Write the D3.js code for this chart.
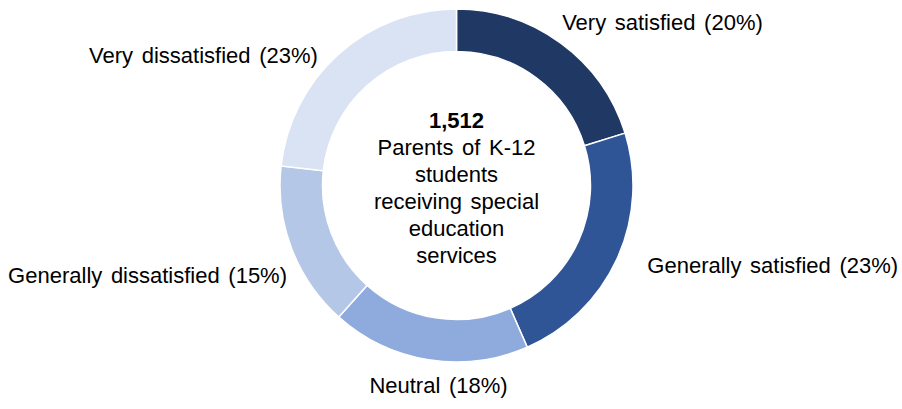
<!DOCTYPE html>
<html>
<head>
<meta charset="utf-8">
<script src="https://cdn.jsdelivr.net/npm/d3@7"></script>
<style>
  html, body { margin: 0; padding: 0; background: #ffffff; }
  svg { display: block; }
  text { font-family: "Liberation Sans", Arial, sans-serif; fill: #000; word-spacing: 2.5px; }
</style>
</head>
<body>
<svg id="chart" width="902" height="409"></svg>
<script>
// Satisfaction categories, in clockwise order from 12 o'clock
const categories = ["Very satisfied", "Generally satisfied", "Neutral", "Generally dissatisfied", "Very dissatisfied"];
const shares = [20, 23, 18, 15, 23];
const colors = ["#203864", "#2f5597", "#8faadc", "#b4c7e7", "#dae3f3"];
// Label placement relative to a point on the label ring: [anchor, dx, dy]
const labelLayout = [
  ["start", -7, -3],
  ["start", 18, 9],
  ["middle", 12, 20],
  ["end", 8, 30],
  ["end", -12, 19]
];
const centerCount = "1,512";
const centerLines = ["Parents of K-12", "students", "receiving special", "education", "services"];

const width = 902, height = 409;
const cx = 456.5, cy = 185.5;
const outerR = 176.5, innerR = 134, labelR = 190;

const svg = d3.select("#chart");
const g = svg.append("g").attr("transform", `translate(${cx},${cy})`);

const data = categories.map((c, i) => ({ name: c, value: shares[i], color: colors[i], layout: labelLayout[i] }));

const pie = d3.pie().value(d => d.value).sort(null);
const arc = d3.arc().innerRadius(innerR).outerRadius(outerR);
const labelArc = d3.arc().innerRadius(labelR).outerRadius(labelR);

const arcs = pie(data);

g.selectAll("path.slice")
  .data(arcs)
  .enter().append("path")
  .attr("class", "slice")
  .attr("d", arc)
  .attr("fill", d => d.data.color)
  .attr("stroke", "#ffffff")
  .attr("stroke-width", 1.5);

g.selectAll("text.label")
  .data(arcs)
  .enter().append("text")
  .attr("class", "label")
  .attr("x", d => labelArc.centroid(d)[0] + d.data.layout[1])
  .attr("y", d => labelArc.centroid(d)[1] + d.data.layout[2])
  .attr("text-anchor", d => d.data.layout[0])
  .style("font-size", "22px")
  .text(d => `${d.data.name} (${d.data.value}%)`);

// Centre caption
const caption = g.append("text")
  .attr("text-anchor", "middle")
  .style("font-size", "22px");
caption.append("tspan")
  .attr("x", 0).attr("y", 128 - cy)
  .style("font-weight", "bold")
  .text(centerCount);
centerLines.forEach((line, i) => {
  caption.append("tspan")
    .attr("x", 0)
    .attr("y", 128 - cy + 27 * (i + 1))
    .text(line);
});
</script>
</body>
</html>
